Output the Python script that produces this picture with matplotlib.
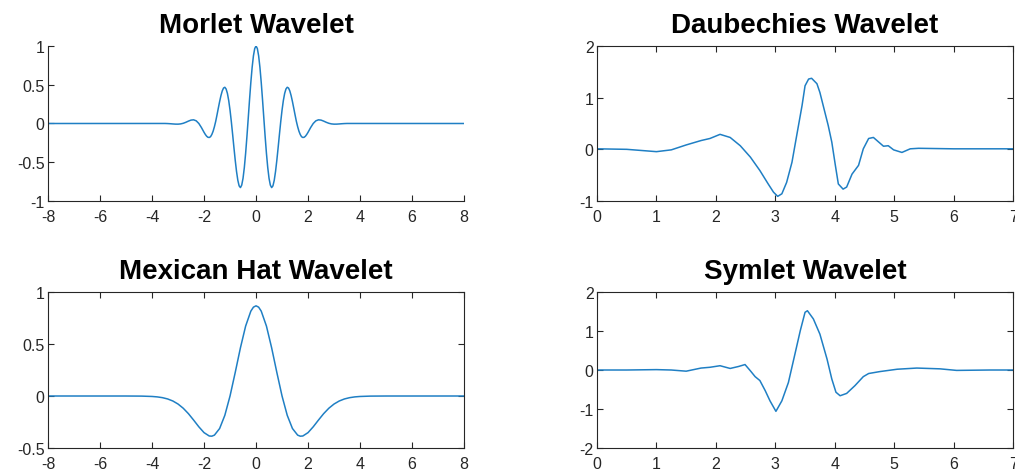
import matplotlib
matplotlib.use("Agg")
import matplotlib.pyplot as plt

plt.rcParams['font.family'] = ['Liberation Sans', 'DejaVu Sans']
plt.rcParams['axes.unicode_minus'] = False

LINE_COLOR = "#1f7fc4"
AX_COLOR = "#262626"

# Morlet wavelet
morlet_x = [-8, -3.5, -3.4, -3.3, -3.2, -3.1, -3.0, -2.9, -2.8, -2.7, -2.6, -2.5, -2.4, -2.3, -2.2,
            -2.1, -2.0, -1.95, -1.9, -1.85, -1.8, -1.75, -1.7, -1.65, -1.6, -1.55, -1.5, -1.45,
            -1.4, -1.35, -1.3, -1.25, -1.2, -1.15, -1.1, -1.05, -1.0, -0.95, -0.9, -0.85, -0.8,
            -0.75, -0.7, -0.65, -0.6, -0.55, -0.5, -0.45, -0.4, -0.35, -0.3, -0.25, -0.2, -0.15,
            -0.1, -0.05, 0.0, 0.05, 0.1, 0.15, 0.2, 0.25, 0.3, 0.35, 0.4, 0.45, 0.5, 0.55, 0.6,
            0.65, 0.7, 0.75, 0.8, 0.85, 0.9, 0.95, 1.0, 1.05, 1.1, 1.15, 1.2, 1.25, 1.3, 1.35,
            1.4, 1.45, 1.5, 1.55, 1.6, 1.65, 1.7, 1.75, 1.8, 1.85, 1.9, 1.95, 2.0, 2.1, 2.2, 2.3,
            2.4, 2.5, 2.6, 2.7, 2.8, 2.9, 3.0, 3.1, 3.2, 3.3, 3.4, 3.5, 8]
morlet_y = [0.0, 0.0004, -0.0009, -0.003, -0.0057, -0.0081, -0.0084, -0.0052, 0.0027, 0.0155,
            0.0309, 0.0438, 0.0474, 0.0343, 0.0004, -0.0524, -0.1136, -0.1412, -0.164, -0.1778,
            -0.1803, -0.1704, -0.1419, -0.0992, -0.0405, 0.0292, 0.1125, 0.1986, 0.283, 0.359,
            0.4195, 0.4575, 0.4674, 0.4446, 0.387, 0.2951, 0.1721, 0.0239, -0.1406, -0.3108,
            -0.4746, -0.6194, -0.733, -0.8048, -0.8269, -0.7945, -0.707, -0.5677, -0.3841,
            -0.1676, 0.0676, 0.3056, 0.5296, 0.7235, 0.8732, 0.9677, 1.0, 0.9677, 0.8732, 0.7235,
            0.5296, 0.3056, 0.0676, -0.1676, -0.3841, -0.5677, -0.707, -0.7945, -0.8269, -0.8048,
            -0.733, -0.6194, -0.4746, -0.3108, -0.1406, 0.0239, 0.1721, 0.2951, 0.387, 0.4446,
            0.4674, 0.4575, 0.4195, 0.359, 0.283, 0.1986, 0.1125, 0.0292, -0.0405, -0.0992,
            -0.1419, -0.1704, -0.1803, -0.1778, -0.164, -0.1412, -0.1136, -0.0524, 0.0004, 0.0343,
            0.0474, 0.0438, 0.0309, 0.0155, 0.0027, -0.0052, -0.0084, -0.0081, -0.0057, -0.003,
            -0.0009, 0.0004, 0.0]

# Daubechies wavelet
daub_x = [0.0, 0.5, 1.0, 1.25, 1.5, 1.75, 1.9, 2.07, 2.24, 2.41, 2.58, 2.74, 2.88, 2.97, 3.04,
          3.11, 3.19, 3.28, 3.36, 3.45, 3.5, 3.56, 3.61, 3.7, 3.75, 3.89, 3.95, 4.01, 4.06, 4.14,
          4.2, 4.29, 4.4, 4.48, 4.57, 4.65, 4.74, 4.82, 4.9, 4.99, 5.13, 5.27, 5.41, 6.0, 7.0]
daub_y = [0.01, 0.0, -0.045, -0.01, 0.085, 0.17, 0.21, 0.29, 0.23, 0.07, -0.15, -0.41, -0.67,
          -0.83, -0.91, -0.86, -0.64, -0.25, 0.27, 0.85, 1.23, 1.36, 1.375, 1.27, 1.1, 0.46,
          0.14, -0.31, -0.67, -0.77, -0.73, -0.48, -0.31, 0.01, 0.21, 0.23, 0.14, 0.06, 0.07,
          -0.01, -0.06, 0.01, 0.02, 0.01, 0.01]

# Mexican hat wavelet
mexhat_x = [-8, -5.0, -4.4, -4.0, -3.8, -3.6, -3.4, -3.2, -3.0, -2.8, -2.6, -2.4, -2.2, -2.0, -1.8,
            -1.7, -1.6, -1.4, -1.2, -1.0, -0.8, -0.6, -0.4, -0.2, -0.1, 0.0, 0.1, 0.2, 0.4, 0.6,
            0.8, 1.0, 1.2, 1.4, 1.6, 1.7, 1.8, 2.0, 2.2, 2.4, 2.6, 2.8, 3.0, 3.2, 3.4, 3.6, 3.8,
            4.0, 4.4, 5.0, 8]
mexhat_y = [0.0, -0.0001, -0.001, -0.0044, -0.0085, -0.0159, -0.0283, -0.0479, -0.0771, -0.1175,
            -0.1698, -0.2316, -0.2961, -0.3521, -0.3845, -0.3864, -0.3761, -0.3125, -0.1858, 0.0,
            0.2267, 0.4636, 0.6725, 0.8161, 0.8544, 0.8673, 0.8544, 0.8161, 0.6725, 0.4636,
            0.2267, 0.0, -0.1858, -0.3125, -0.3761, -0.3864, -0.3845, -0.3521, -0.2961, -0.2316,
            -0.1698, -0.1175, -0.0771, -0.0479, -0.0283, -0.0159, -0.0085, -0.0044, -0.001,
            -0.0001, 0.0]

# Symlet wavelet
sym_x = [0.0, 0.5, 1.0, 1.25, 1.5, 1.75, 1.9, 2.07, 2.24, 2.38, 2.49, 2.58, 2.66, 2.74, 2.83,
         2.91, 3.01, 3.11, 3.22, 3.33, 3.42, 3.5, 3.54, 3.64, 3.75, 3.87, 3.95, 4.02, 4.09, 4.2,
         4.34, 4.48, 4.57, 4.76, 5.05, 5.38, 5.77, 6.05, 6.61, 7.0]
sym_y = [0.0, 0.0, 0.01, 0.0, -0.03, 0.05, 0.07, 0.11, 0.04, 0.09, 0.14, -0.02, -0.17, -0.27,
         -0.53, -0.79, -1.06, -0.79, -0.32, 0.41, 1.01, 1.48, 1.52, 1.31, 0.92, 0.28, -0.23,
         -0.57, -0.66, -0.6, -0.4, -0.17, -0.09, -0.04, 0.02, 0.05, 0.03, -0.01, 0.0, 0.0]

panels = [
    ("Morlet Wavelet", morlet_x, morlet_y, (-8, 8), (-1, 1),
     [-8, -6, -4, -2, 0, 2, 4, 6, 8], [-1, -0.5, 0, 0.5, 1], ["-1", "-0.5", "0", "0.5", "1"], False),
    ("Daubechies Wavelet", daub_x, daub_y, (0, 7), (-1, 2),
     [0, 1, 2, 3, 4, 5, 6, 7], [-1, 0, 1, 2], ["-1", "0", "1", "2"], True),
    ("Mexican Hat Wavelet", mexhat_x, mexhat_y, (-8, 8), (-0.5, 1),
     [-8, -6, -4, -2, 0, 2, 4, 6, 8], [-0.5, 0, 0.5, 1], ["-0.5", "0", "0.5", "1"], True),
    ("Symlet Wavelet", sym_x, sym_y, (0, 7), (-2, 2),
     [0, 1, 2, 3, 4, 5, 6, 7], [-2, -1, 0, 1, 2], ["-2", "-1", "0", "1", "2"], True),
]

positions = [
    [0.0473, 0.5765, 0.4099, 0.325],
    [0.5882, 0.5765, 0.4099, 0.325],
    [0.0473, 0.0587, 0.4099, 0.327],
    [0.5882, 0.0587, 0.4099, 0.327],
]

fig = plt.figure(figsize=(10.15, 4.77), dpi=100)

for pos, (title, x, y, xlim, ylim, xt, yt, ytl, box) in zip(positions, panels):
    ax = fig.add_axes(pos)
    ax.plot(x, y, color=LINE_COLOR, linewidth=1.1)
    ax.set_xlim(*xlim)
    ax.set_ylim(*ylim)
    ax.set_xticks(xt)
    ax.set_xticklabels([str(v) for v in xt])
    ax.set_yticks(yt)
    ax.set_yticklabels(ytl)
    ax.set_title(title, fontsize=20, fontweight="bold", color="black", pad=10)
    for s in ax.spines.values():
        s.set_color(AX_COLOR)
        s.set_linewidth(0.8)
    if not box:
        ax.spines["top"].set_visible(False)
        ax.spines["right"].set_visible(False)
    ax.tick_params(direction="in", length=4, width=0.8, color=AX_COLOR,
                   labelcolor=AX_COLOR, labelsize=11.5, top=box, right=box)
    ax.tick_params(axis="y", pad=2.5)
    ax.tick_params(axis="x", pad=5.5)

fig.savefig("out.png", dpi=100)
